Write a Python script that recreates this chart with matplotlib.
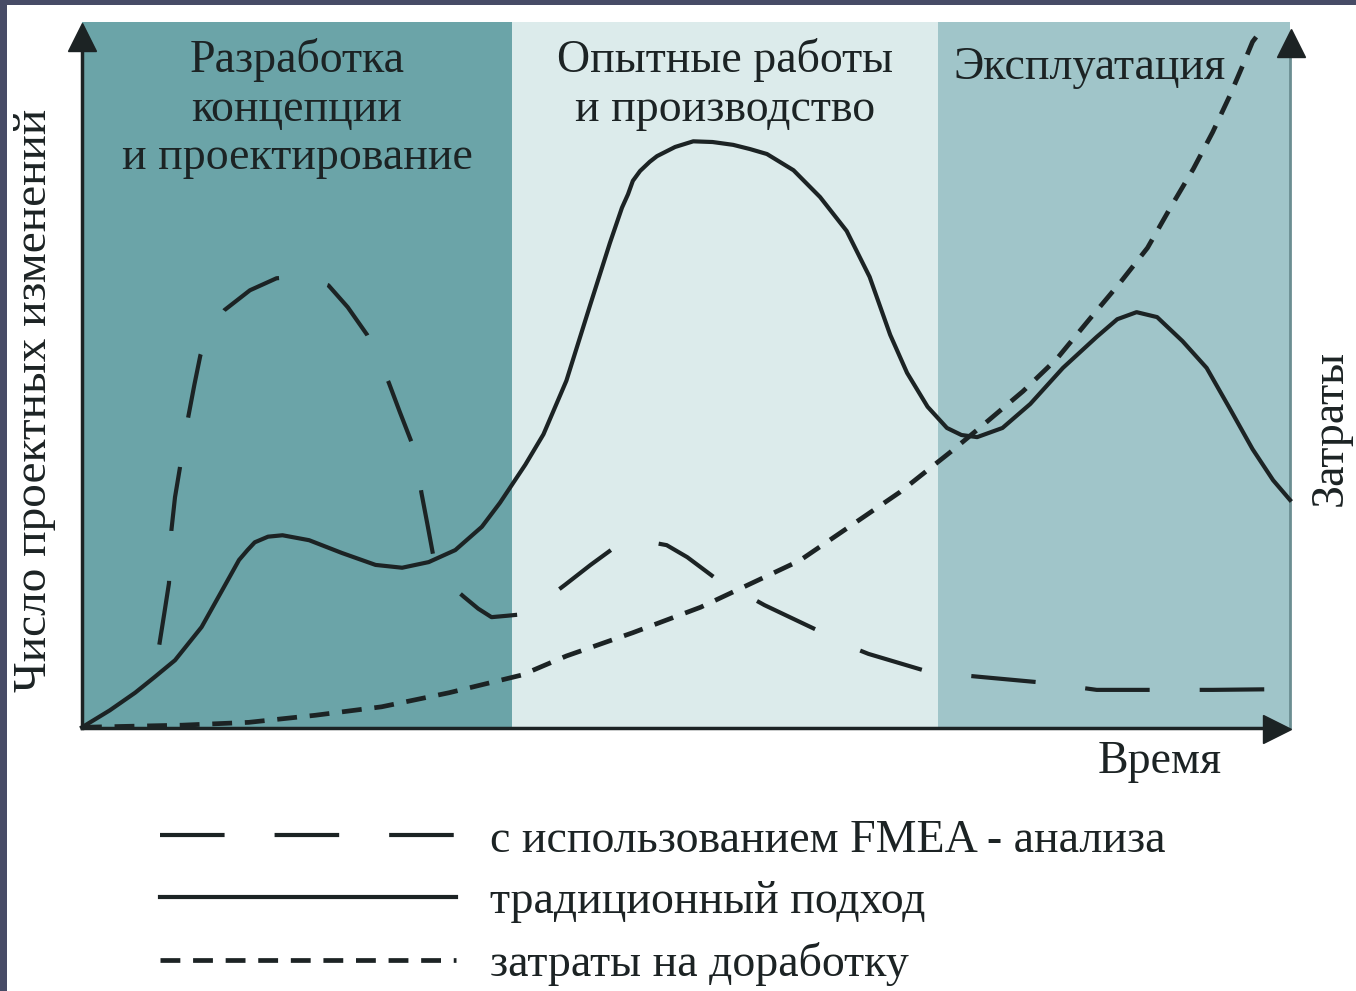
import numpy as np
import matplotlib
matplotlib.use("Agg")
import matplotlib.pyplot as plt
from matplotlib.patches import Rectangle

plt.rcParams["font.family"] = ["Liberation Serif", "DejaVu Serif"]

# Phases of the project (time axis 0..100)
phase_names = ["Разработка\nконцепции\nи проектирование",
               "Опытные работы\nи производство",
               "Эксплуатация"]
phase_edges = [0, 35.6, 70.9, 100]
phase_colors = ["#6ba4a8", "#dcebeb", "#a0c5c9"]

# traditional approach (solid)
trad_x = [0.0, 2.3, 4.4, 6.0, 7.7, 9.9, 11.6, 13.0, 13.7, 14.3, 15.4, 16.6,
          18.8, 21.5, 24.3, 26.5, 28.7, 30.9, 33.1, 34.6, 36.7, 38.2, 40.1,
          42.1, 43.7, 44.7, 45.2, 45.6, 46.2, 47.0, 47.6, 49.1, 50.6, 52.2,
          53.9, 55.3, 56.7, 58.9, 61.1, 63.3, 65.2, 66.9, 68.3, 70.0, 71.6,
          72.8, 74.1, 76.2, 78.5, 81.2, 84.0, 85.7, 87.3, 89.0, 91.1, 93.1,
          95.0, 96.9, 98.6, 100.0]
trad_y = [0.1, 2.5, 5.0, 7.2, 9.6, 14.3, 19.5, 23.8, 25.2, 26.3, 27.1, 27.3,
          26.6, 24.8, 23.1, 22.7, 23.5, 25.2, 28.5, 31.9, 37.3, 41.6, 49.2,
          60.1, 68.7, 73.7, 75.6, 77.5, 78.9, 80.2, 81.0, 82.3, 83.1, 83.0,
          82.6, 82.0, 81.3, 79.0, 75.2, 70.4, 63.9, 55.7, 50.3, 45.5, 42.5,
          41.5, 41.2, 42.5, 45.9, 51.0, 55.4, 57.9, 58.9, 58.2, 54.8, 51.0,
          45.3, 39.5, 35.1, 32.3]

# with FMEA analysis (long dashes)
fmea_x = [6.4, 6.8, 7.2, 7.3, 7.4, 7.7, 8.1, 8.4, 8.8, 9.3, 9.8, 10.6, 11.8,
          13.9, 16.1, 18.2, 20.4, 22.0, 23.6, 24.5, 25.4, 26.3, 27.3, 27.8,
          28.1, 28.6, 29.1, 30.0, 31.6, 32.8, 33.9, 35.2, 36.4, 38.3, 40.0,
          42.1, 44.1, 46.2, 48.4, 50.1, 52.6, 54.5, 56.5, 61.3, 63.2, 65.1,
          70.2, 74.6, 79.7, 84.0, 89.2, 93.6, 99.2]
fmea_y = [11.8, 16.1, 20.5, 24.5, 28.0, 32.7, 36.8, 40.5, 44.1, 48.6, 52.8,
          56.4, 59.2, 62.0, 63.7, 64.0, 62.7, 59.6, 55.7, 52.4, 48.9, 44.8,
          40.4, 36.5, 33.3, 28.8, 24.2, 21.0, 18.6, 16.9, 15.7, 15.9, 16.1,
          18.1, 20.3, 23.1, 25.6, 26.6, 25.9, 24.2, 21.0, 19.3, 17.4, 13.5,
          11.8, 10.5, 7.9, 7.2, 6.4, 5.4, 5.4, 5.4, 5.5]

# rework costs (short dashes)
cost_x = [0, 8.3, 13.8, 19.3, 24.8, 30.4, 36.4, 40.1, 45.6, 51.2, 55.3, 59.4,
          63.6, 67.7, 71.9, 74.3, 77.9, 80.7, 83.4, 85.9, 88.2, 90.1, 92.0,
          93.6, 95.0, 96.1, 96.9, 97.7]
cost_y = [0.1, 0.4, 0.8, 1.8, 3.0, 5.0, 7.5, 10.2, 13.5, 17.1, 20.4, 23.7,
          28.6, 33.4, 39.1, 42.5, 47.7, 52.3, 57.9, 63.0, 68.0, 73.7, 79.2,
          84.4, 89.5, 93.9, 97.2, 99.0]

labels = ["с использованием FMEA - анализа", "традиционный подход",
          "затраты на доработку"]

W, H = 1356, 991
FS = 33
fig = plt.figure(figsize=(W / 100, H / 100), dpi=100)
fig.patch.set_facecolor("white")

# dark slide frame
fig.add_artist(Rectangle((0, 1 - 5 / H), 1, 5 / H, transform=fig.transFigure,
                         color="#474b66", lw=0))
fig.add_artist(Rectangle((0, 0), 7 / W, 1, transform=fig.transFigure,
                         color="#474b66", lw=0))

ax = fig.add_axes([82 / W, (H - 728) / H, 1208 / W, 706 / H])
ax.set_xlim(0, 100)
ax.set_ylim(0, 100)
ax.axis("off")

ink = "#1c2324"
for i, name in enumerate(phase_names):
    ax.axvspan(phase_edges[i], phase_edges[i + 1], color=phase_colors[i], lw=0, zorder=0)

ax.text(17.8, 97.7, phase_names[0], ha="center", va="top", fontsize=FS,
        color=ink, linespacing=1.18)
ax.text(53.2, 97.7, phase_names[1], ha="center", va="top", fontsize=FS,
        color=ink, linespacing=1.18)
ax.text(83.4, 96.6, phase_names[2], ha="center", va="top", fontsize=FS,
        color=ink)

# axes lines and arrows
ax.plot([0, 0], [0, 96], color=ink, lw=2.5, zorder=3, clip_on=False)
ax.plot([0, 98], [0, 0], color=ink, lw=2.5, zorder=3, clip_on=False)
ax.plot([100, 100], [0, 96], color="#6b8e92", lw=2, zorder=3, clip_on=False)
ax.plot([0], [97.9], marker="^", ms=20, color=ink, zorder=4, clip_on=False)
ax.plot([100.1], [97.0], marker="^", ms=20, color=ink, zorder=4, clip_on=False)
ax.plot([98.9], [-0.2], marker=">", ms=20, color=ink, zorder=4, clip_on=False)

l_fmea, = ax.plot(fmea_x, fmea_y, color=ink, lw=3, ls=(0, (15.5, 12)),
                  zorder=5, clip_on=False, dash_joinstyle="round")
l_trad, = ax.plot(trad_x, trad_y, color=ink, lw=3, zorder=5, clip_on=False,
                  solid_joinstyle="round")
l_cost, = ax.plot(cost_x, cost_y, color=ink, lw=3.4, ls=(0, (4.2, 2.7)),
                  zorder=5, clip_on=False)

fig.text(35 / W, 1 - 400 / H, "Число проектных изменений", rotation=90,
         ha="center", va="center", fontsize=FS + 1, color=ink)
fig.text(1330 / W, 1 - 428 / H, "Затраты", rotation=90,
         ha="center", va="center", fontsize=FS, color=ink)
fig.text(1160 / W, 1 - 762 / H, "Время", ha="center", va="center",
         fontsize=FS, color=ink)

leg = fig.legend([l_fmea, l_trad, l_cost], labels, loc="upper left",
                 bbox_to_anchor=(160 / W, 1 - 819 / H), frameon=False,
                 fontsize=FS, handlelength=6.45, handletextpad=0.76,
                 labelspacing=0.41, borderpad=0, borderaxespad=0)
for t in leg.get_texts():
    t.set_color(ink)

fig.savefig("out.png", dpi=100)
